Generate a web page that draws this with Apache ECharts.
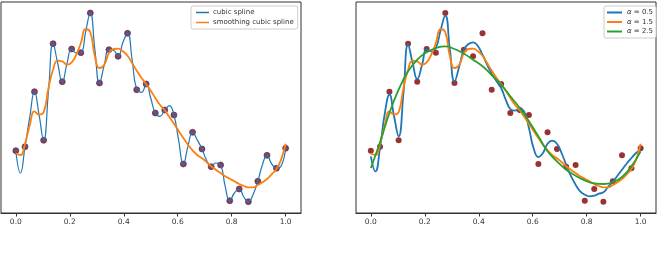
<!DOCTYPE html>
<html>
<head>
<meta charset="utf-8">
<script src="https://cdn.jsdelivr.net/npm/echarts@6/dist/echarts.min.js"></script>
<style>
  html, body { margin: 0; padding: 0; background: #fff; }
  #chart { width: 657px; height: 257px; }
</style>
</head>
<body>
<div id="chart"></div>
<script>
// sample positions (30 points) and the finer grid the curves were read on
const xs = [0, 0.034, 0.069, 0.103, 0.138, 0.172, 0.207, 0.241, 0.276, 0.310,
  0.345, 0.379, 0.414, 0.448, 0.483, 0.517, 0.552, 0.586, 0.621, 0.655,
  0.690, 0.724, 0.759, 0.793, 0.828, 0.862, 0.897, 0.931, 0.966, 1.0];
const fineX = [0, 0.017, 0.034, 0.052, 0.069, 0.086, 0.103, 0.121, 0.138, 0.155,
  0.172, 0.190, 0.207, 0.224, 0.241, 0.259, 0.276, 0.293, 0.310, 0.328,
  0.345, 0.362, 0.379, 0.397, 0.414, 0.431, 0.448, 0.466, 0.483, 0.500,
  0.517, 0.534, 0.552, 0.569, 0.586, 0.603, 0.621, 0.638, 0.655, 0.672,
  0.690, 0.707, 0.724, 0.741, 0.759, 0.776, 0.793, 0.810, 0.828, 0.845,
  0.862, 0.879, 0.897, 0.914, 0.931, 0.948, 0.966, 0.983, 1.0];

// noisy samples
const pointY = [0.623, 0.663, 1.213, 0.727, 1.693, 1.313, 1.640, 1.603, 2.000, 1.300,
  1.633, 1.567, 1.797, 1.233, 1.290, 1.000, 1.030, 0.980, 0.490, 0.807,
  0.640, 0.463, 0.480, 0.123, 0.240, 0.113, 0.317, 0.577, 0.447, 0.647];

// interpolating cubic spline (on fineX)
const cubicY = [0.623, 0.400, 0.663, 0.967, 1.213, 0.983, 0.727, 1.217, 1.693, 1.500,
  1.313, 1.500, 1.640, 1.600, 1.603, 1.817, 2.000, 1.633, 1.300, 1.483,
  1.633, 1.627, 1.567, 1.707, 1.797, 1.533, 1.233, 1.207, 1.290, 1.150,
  1.000, 0.967, 1.030, 1.073, 0.980, 0.733, 0.490, 0.667, 0.807, 0.733,
  0.640, 0.527, 0.463, 0.500, 0.480, 0.267, 0.123, 0.200, 0.240, 0.160,
  0.113, 0.183, 0.317, 0.483, 0.577, 0.493, 0.447, 0.467, 0.647];

// smoothing spline, alpha = 1.5 (on fineX)
const smoothY = [0.593, 0.580, 0.693, 0.883, 1.017, 0.983, 1.007, 1.250, 1.433, 1.523,
  1.517, 1.483, 1.507, 1.583, 1.700, 1.840, 1.807, 1.567, 1.450, 1.483,
  1.600, 1.640, 1.643, 1.617, 1.573, 1.500, 1.423, 1.350, 1.290, 1.223,
  1.150, 1.083, 1.027, 0.960, 0.893, 0.823, 0.750, 0.683, 0.627, 0.580,
  0.547, 0.510, 0.467, 0.433, 0.400, 0.367, 0.343, 0.317, 0.290, 0.270,
  0.257, 0.257, 0.280, 0.307, 0.340, 0.387, 0.440, 0.533, 0.693];

// smoothing spline, alpha = 0.5 (on fineX)
const alphaLowY = [0.567, 0.417, 0.650, 1.000, 1.183, 0.967, 0.767, 1.200, 1.683, 1.500,
  1.340, 1.483, 1.633, 1.617, 1.650, 1.833, 1.973, 1.633, 1.317, 1.467,
  1.633, 1.690, 1.707, 1.667, 1.583, 1.483, 1.393, 1.317, 1.250, 1.133,
  1.040, 1.023, 1.040, 1.010, 0.850, 0.650, 0.560, 0.600, 0.693, 0.723,
  0.693, 0.600, 0.483, 0.373, 0.283, 0.217, 0.183, 0.167, 0.173, 0.193,
  0.207, 0.260, 0.313, 0.373, 0.433, 0.493, 0.550, 0.600, 0.633];

// smoothing spline, alpha = 2.5 (on xs)
const alphaHighY = [0.450, 0.707, 1.000, 1.233, 1.417, 1.533, 1.607, 1.650, 1.667, 1.640,
  1.593, 1.533, 1.467, 1.380, 1.283, 1.167, 1.050, 0.917, 0.767, 0.617,
  0.517, 0.433, 0.373, 0.327, 0.297, 0.290, 0.307, 0.360, 0.467, 0.617];

const tickValues = [0, 0.2, 0.4, 0.6, 0.8, 1.0];

const pairs = (xArr, yArr) => xArr.map((x, i) => [x, yArr[i]]);

const font = 'DejaVu Sans';

function makeXAxis(gridIndex) {
  return {
    type: 'value', gridIndex: gridIndex, min: -0.055, max: 1.057,
    axisLine: { show: true, onZero: false, lineStyle: { color: '#333', width: 1 } },
    axisTick: { show: true, customValues: tickValues, length: 3.5, lineStyle: { color: '#333' } },
    axisLabel: {
      customValues: tickValues, margin: 5, fontSize: 7.5, fontFamily: font, color: '#333',
      formatter: v => v.toFixed(1)
    },
    splitLine: { show: false }
  };
}

function makeYAxis(gridIndex) {
  return {
    type: 'value', gridIndex: gridIndex, min: 0, max: 2.11,
    axisLine: { show: false }, axisTick: { show: false },
    axisLabel: { show: false }, splitLine: { show: false }
  };
}

function lineSeries(name, idx, data, color, width, z) {
  return {
    name: name, type: 'line', xAxisIndex: idx, yAxisIndex: idx,
    data: data, smooth: 0.5, symbol: 'none', z: z,
    lineStyle: { color: color, width: width }, itemStyle: { color: color }
  };
}

const chart = echarts.init(document.getElementById('chart'), null, { renderer: 'canvas' });

chart.setOption({
  animation: false,
  backgroundColor: '#fff',
  grid: [
    { left: 1, top: 2, width: 300, height: 211, show: true, borderColor: '#333', borderWidth: 1 },
    { left: 356, top: 2, width: 300, height: 211, show: true, borderColor: '#333', borderWidth: 1 }
  ],
  xAxis: [makeXAxis(0), makeXAxis(1)],
  yAxis: [makeYAxis(0), makeYAxis(1)],
  legend: [
    {
      data: ['cubic spline', 'smoothing cubic spline'],
      orient: 'vertical', left: 191, top: 6, padding: [3, 4, 3, 5],
      icon: 'rect', itemWidth: 13, itemHeight: 1.5, itemGap: 3, backgroundColor: '#fff',
      borderColor: '#ccc', borderWidth: 1, borderRadius: 2,
      textStyle: { fontSize: 7, fontFamily: font, color: '#333', padding: [0, 0, 0, -1] }
    },
    {
      data: ['α = 0.5', 'α = 1.5', 'α = 2.5'],
      orient: 'vertical', left: 604, top: 6, padding: [3, 3, 3, 3],
      icon: 'rect', itemWidth: 15, itemHeight: 2, itemGap: 2.5, backgroundColor: '#fff',
      borderColor: '#ccc', borderWidth: 1, borderRadius: 2,
      formatter: n => '{a|α}' + n.slice(1),
      textStyle: {
        fontSize: 7, fontFamily: font, color: '#333',
        rich: { a: { fontSize: 7, fontFamily: font, fontStyle: 'italic', color: '#333' } }
      }
    }
  ],
  series: [
    lineSeries('cubic spline', 0, pairs(fineX, cubicY), '#1f77b4', 1.2, 3),
    lineSeries('smoothing cubic spline', 0, pairs(fineX, smoothY), '#ff7f0e', 1.8, 4),
    {
      type: 'scatter', xAxisIndex: 0, yAxisIndex: 0, data: pairs(xs, pointY),
      symbolSize: 6, z: 2,
      itemStyle: { color: '#7a0c24', borderColor: '#3d2a66', borderWidth: 0.8 }
    },
    {
      type: 'scatter', xAxisIndex: 1, yAxisIndex: 1, data: pairs(xs, pointY),
      symbolSize: 6, z: 2, itemStyle: { color: '#800000' }
    },
    lineSeries('α = 0.5', 1, pairs(fineX, alphaLowY), '#1f77b4', 1.8, 3),
    lineSeries('α = 1.5', 1, pairs(fineX, smoothY), '#ff7f0e', 1.8, 4),
    lineSeries('α = 2.5', 1, pairs(xs, alphaHighY), '#2ca02c', 1.8, 5)
  ]
});
</script>
</body>
</html>
